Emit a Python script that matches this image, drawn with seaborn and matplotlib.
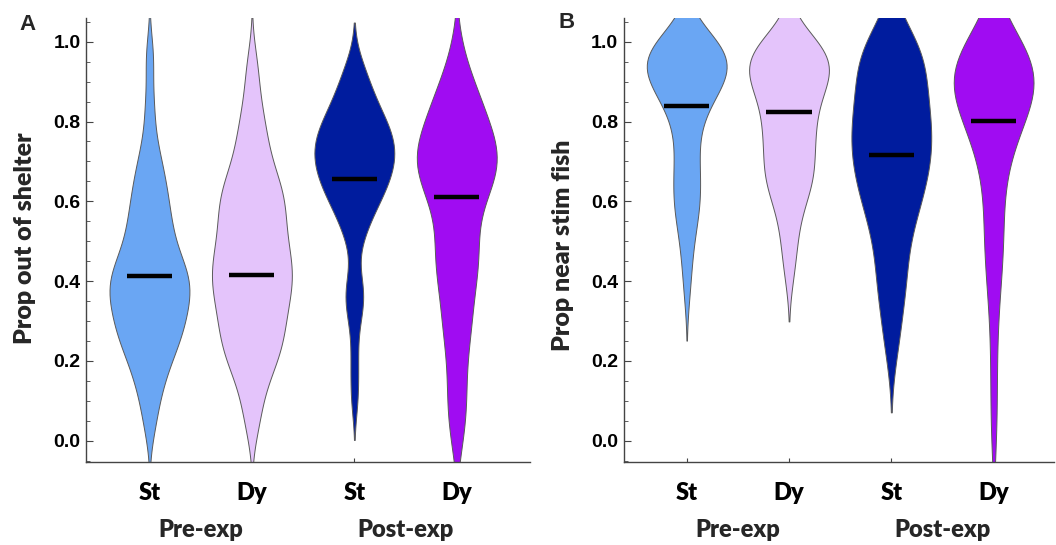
import numpy as np
import pandas as pd
import seaborn as sns
import matplotlib
matplotlib.use("Agg")
import matplotlib.pyplot as plt
from matplotlib.ticker import MultipleLocator
from matplotlib.transforms import blended_transform_factory

# Categories, shared by both panels.
groups = ["Pre St", "Pre Dy", "Post St", "Post Dy"]
tick_labels = ["St", "Dy", "St", "Dy"]
phase_labels = ["Pre-exp", "Post-exp"]
colors = ["#6aa6f3", "#e4c4fb", "#001c9e", "#a00cf2"]
y_ticks = [0.0, 0.2, 0.4, 0.6, 0.8, 1.0]

# Panel A: proportion of time out of shelter (one value per fish).
shelter_pre_st = [0.04, 0.10, 0.14, 0.17, 0.19, 0.22, 0.23, 0.25, 0.26, 0.27,
                  0.29, 0.30, 0.31, 0.32, 0.34, 0.35, 0.36, 0.37, 0.38, 0.39,
                  0.40, 0.41, 0.42, 0.43, 0.44, 0.46, 0.47, 0.49, 0.51, 0.53,
                  0.55, 0.57, 0.59, 0.62, 0.64, 0.67, 0.70, 0.75, 0.84, 0.96]
shelter_pre_dy = [0.04, 0.10, 0.15, 0.18, 0.20, 0.22, 0.24, 0.25, 0.27, 0.29,
                  0.30, 0.32, 0.34, 0.35, 0.37, 0.38, 0.39, 0.41, 0.42, 0.43,
                  0.44, 0.46, 0.47, 0.49, 0.50, 0.52, 0.54, 0.55, 0.57, 0.59,
                  0.60, 0.62, 0.63, 0.65, 0.67, 0.70, 0.73, 0.77, 0.80, 0.86,
                  0.94]
shelter_post_st = [0.11, 0.20, 0.30, 0.35, 0.37, 0.40, 0.50, 0.53, 0.56, 0.58,
                   0.59, 0.61, 0.62, 0.63, 0.64, 0.65, 0.66, 0.67, 0.68, 0.69,
                   0.70, 0.70, 0.71, 0.72, 0.73, 0.74, 0.75, 0.75, 0.76, 0.77,
                   0.78, 0.79, 0.80, 0.81, 0.82, 0.84, 0.85, 0.87, 0.89, 0.92,
                   0.94]
shelter_post_dy = [0.00, 0.06, 0.10, 0.15, 0.20, 0.25, 0.28, 0.30, 0.34, 0.37,
                   0.39, 0.42, 0.44, 0.46, 0.47, 0.49, 0.52, 0.54, 0.57, 0.59,
                   0.61, 0.62, 0.64, 0.65, 0.66, 0.67, 0.68, 0.69, 0.70, 0.71,
                   0.72, 0.73, 0.74, 0.75, 0.76, 0.77, 0.79, 0.80, 0.82, 0.84,
                   0.85, 0.87, 0.89, 0.92, 0.98]
shelter_means = [0.413, 0.416, 0.656, 0.611]

# Panel B: proportion of time near the stimulus fish.
near_pre_st = [0.38, 0.45, 0.50, 0.54, 0.57, 0.59, 0.60, 0.62, 0.65, 0.67,
               0.69, 0.71, 0.74, 0.77, 0.79, 0.82, 0.84, 0.85, 0.86, 0.87,
               0.88, 0.89, 0.90, 0.90, 0.91, 0.92, 0.92, 0.93, 0.94, 0.94,
               0.95, 0.95, 0.96, 0.96, 0.97, 0.97, 0.98, 0.98, 0.99, 1.00,
               1.00, 1.00, 1.00]
near_pre_dy = [0.42, 0.48, 0.52, 0.57, 0.59, 0.62, 0.64, 0.65, 0.66, 0.67,
               0.69, 0.70, 0.72, 0.74, 0.75, 0.77, 0.78, 0.79, 0.81, 0.82,
               0.84, 0.85, 0.87, 0.88, 0.89, 0.90, 0.91, 0.92, 0.92, 0.93,
               0.94, 0.95, 0.95, 0.96, 0.97, 0.98, 0.99, 1.00, 1.00, 1.00]
near_post_st = [0.23, 0.29, 0.35, 0.39, 0.42, 0.44, 0.50, 0.53, 0.55, 0.57,
                0.59, 0.62, 0.63, 0.64, 0.66, 0.67, 0.69, 0.70, 0.72, 0.73,
                0.74, 0.76, 0.77, 0.78, 0.79, 0.81, 0.82, 0.84, 0.85, 0.87,
                0.89, 0.90, 0.92, 0.94, 0.95, 0.97, 0.99, 1.00, 1.00, 1.00]
near_post_dy = [0.02, 0.14, 0.26, 0.36, 0.41, 0.46, 0.50, 0.52, 0.57, 0.61,
                0.66, 0.69, 0.72, 0.74, 0.76, 0.77, 0.79, 0.81, 0.82, 0.83,
                0.84, 0.85, 0.86, 0.87, 0.87, 0.88, 0.89, 0.90, 0.90, 0.91,
                0.92, 0.92, 0.93, 0.94, 0.95, 0.95, 0.96, 0.97, 0.98, 0.99,
                1.00, 1.00, 1.00]
near_means = [0.840, 0.823, 0.716, 0.801]


def long_form(columns):
    return pd.DataFrame({
        "group": np.repeat(groups, [len(c) for c in columns]),
        "value": np.concatenate(columns),
    })


def draw_panel(ax, df, means, ylabel, xlim, label_xy, bw):
    sns.violinplot(data=df, x="group", y="value", hue="group",
                   order=groups, hue_order=groups, palette=colors,
                   saturation=1, inner=None, density_norm="width",
                   width=0.78, cut=2, bw_adjust=bw, linewidth=0.7,
                   linecolor="#5a5a5a", legend=False, ax=ax)

    # Group means as short black bars.
    xs = np.arange(len(groups))
    ax.hlines(means, xs - 0.22, xs + 0.22, color="black",
              linewidth=3.2, zorder=5)

    ax.set_xlim(*xlim)
    ax.set_ylim(-0.054, 1.0586)
    ax.set_yticks(y_ticks)
    ax.set_yticklabels(["{:.1f}".format(t) for t in y_ticks], fontsize=14,
                       fontweight="bold", family="Liberation Sans")
    ax.yaxis.set_minor_locator(MultipleLocator(0.05))

    ax.set_xticks(xs)
    ax.set_xticklabels(tick_labels, fontsize=17, fontweight="heavy",
                       family="Lato")

    ax.tick_params(axis="y", which="major", direction="in", length=5,
                   width=0.8, pad=4, colors="#444444", labelcolor="black")
    ax.tick_params(axis="y", which="minor", direction="in", length=3,
                   width=0.6, colors="#444444")
    ax.tick_params(axis="x", direction="in", length=3, width=0.8,
                   pad=14.5, colors="#444444", labelcolor="black")

    for side in ["top", "right"]:
        ax.spines[side].set_visible(False)
    for side in ["left", "bottom"]:
        ax.spines[side].set_color("#444444")
        ax.spines[side].set_linewidth(1.0)

    ax.set_xlabel("")
    ax.set_ylabel(ylabel, fontsize=18, fontweight="heavy", family="Lato")
    ax.yaxis.set_label_coords(*label_xy)

    trans = blended_transform_factory(ax.transData, ax.transAxes)
    for i, text in enumerate(phase_labels):
        ax.text(2 * i + 0.5, -0.168, text, transform=trans, ha="center",
                va="baseline", fontsize=17, fontweight="heavy", family="Lato")


sns.set_style("ticks")

df_a = long_form([shelter_pre_st, shelter_pre_dy, shelter_post_st, shelter_post_dy])
df_b = long_form([near_pre_st, near_pre_dy, near_post_st, near_post_dy])

fig = plt.figure(figsize=(10.56, 5.45), dpi=100)
ax_a = fig.add_axes([0.0814, 0.1517, 0.4205, 0.8147])
ax_b = fig.add_axes([0.5906, 0.1517, 0.4075, 0.8147])

draw_panel(ax_a, df_a, shelter_means, "Prop out of shelter",
           (-0.62, 3.715), (-0.112, 0.505), 0.6)
draw_panel(ax_b, df_b, near_means, "Prop near stim fish",
           (-0.616, 3.59), (-0.115, 0.489), 0.8)

fig.text(19 / 1056, 1 - 30 / 545, "A", fontsize=16, fontweight="bold",
         family="Liberation Sans", va="baseline")
fig.text(559 / 1056, 1 - 28 / 545, "B", fontsize=16, fontweight="bold",
         family="Liberation Sans", va="baseline")

fig.savefig("out.png", dpi=100)
plt.close(fig)
